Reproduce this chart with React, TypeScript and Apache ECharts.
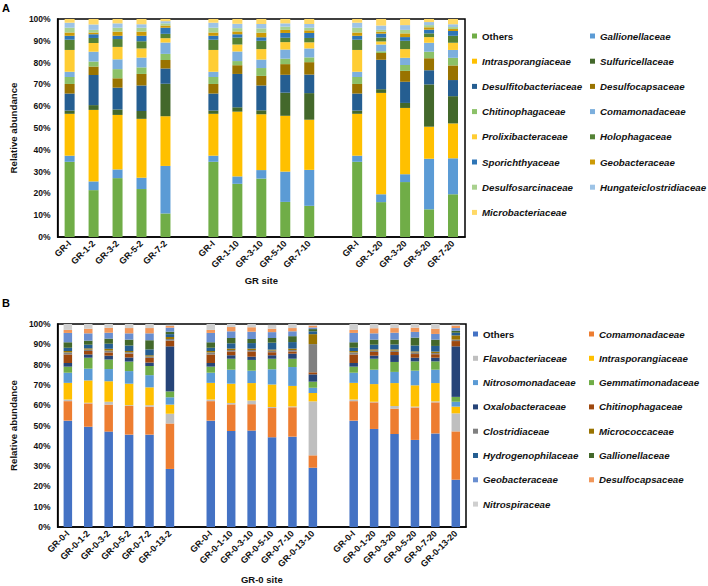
import React, { useEffect, useRef } from "react";
import * as echarts from "echarts";

// ---------- Panel A ----------
const A_FAMILIES = [
  "Others", "Gallionellaceae", "Intrasporangiaceae", "Sulfuricellaceae",
  "Desulfitobacteriaceae", "Desulfocapsaceae", "Chitinophagaceae", "Comamonadaceae",
  "Prolixibacteraceae", "Holophagaceae", "Sporichthyaceae", "Geobacteraceae",
  "Desulfosarcinaceae", "Hungateiclostridiaceae", "Microbacteriaceae",
];
const A_COLORS = [
  "#70AD47", "#5B9BD5", "#FFC000", "#43682B", "#255E91", "#997300", "#8CC168", "#7CAFDD",
  "#FFCD33", "#548235", "#2E75B6", "#CC9A06", "#A9D18E", "#9DC3E6", "#FFD966",
];
const A_CATS = [
  "GR-I", "GR-1-2", "GR-3-2", "GR-5-2", "GR-7-2", "",
  "GR-I", "GR-1-10", "GR-3-10", "GR-5-10", "GR-7-10", "",
  "GR-I", "GR-1-20", "GR-3-20", "GR-5-20", "GR-7-20",
];
// values per sample, in family (stack) order
const A_GR_I = [34.5, 2.8, 19.2, 1.5, 7.8, 4.4, 3.2, 2.4, 10.0, 4.7, 1.8, 1.5, 2.2, 2.3, 1.7];
const A_GR_1_2 = [21.5, 4.0, 32.8, 2.2, 13.8, 3.9, 2.3, 4.5, 4.0, 2.3, 1.7, 0.8, 1.2, 2.5, 2.5];
const A_GR_3_2 = [27.0, 4.0, 25.0, 2.5, 10.0, 4.3, 4.2, 4.5, 5.7, 3.6, 1.5, 1.9, 1.8, 2.0, 2.0];
const A_GR_5_2 = [22.0, 5.2, 27.0, 3.6, 11.7, 5.3, 3.0, 4.5, 4.2, 3.3, 2.5, 1.9, 1.8, 1.6, 2.4];
const A_GR_7_2 = [10.8, 21.8, 22.8, 14.9, 7.0, 3.9, 2.8, 5.2, 2.0, 2.0, 2.8, 1.0, 1.0, 1.0, 1.0];
const A_GR_1_10 = [24.4, 3.4, 29.7, 2.0, 15.3, 4.0, 1.9, 4.4, 3.2, 3.2, 1.5, 1.3, 1.5, 2.0, 2.2];
const A_GR_3_10 = [26.8, 3.9, 25.6, 1.8, 11.4, 4.4, 3.6, 3.9, 4.8, 3.8, 1.6, 2.1, 2.0, 2.0, 2.3];
const A_GR_5_10 = [16.1, 13.9, 25.6, 10.6, 8.2, 4.9, 2.5, 4.2, 3.4, 2.0, 2.2, 1.4, 1.5, 1.5, 2.0];
const A_GR_7_10 = [14.3, 16.5, 23.0, 12.2, 8.5, 5.7, 2.2, 4.1, 2.8, 2.0, 2.3, 1.2, 1.2, 1.7, 2.3];
const A_GR_1_20 = [16.0, 3.6, 46.5, 1.7, 13.5, 3.1, 0.8, 3.1, 1.4, 1.8, 1.8, 0.9, 0.8, 2.0, 3.0];
const A_GR_3_20 = [25.2, 3.6, 30.4, 2.3, 9.7, 5.0, 2.7, 3.3, 4.0, 3.8, 1.7, 1.7, 1.6, 2.2, 2.8];
const A_GR_5_20 = [12.7, 23.2, 14.7, 19.4, 6.5, 5.5, 3.0, 4.1, 2.6, 1.7, 1.7, 1.1, 1.0, 1.4, 1.4];
const A_GR_7_20 = [19.6, 16.5, 16.0, 12.5, 7.4, 6.7, 3.5, 3.6, 3.3, 3.2, 2.2, 0.9, 0.9, 1.3, 2.4];
const A_SAMPLES = [
  A_GR_I, A_GR_1_2, A_GR_3_2, A_GR_5_2, A_GR_7_2, null,
  A_GR_I, A_GR_1_10, A_GR_3_10, A_GR_5_10, A_GR_7_10, null,
  A_GR_I, A_GR_1_20, A_GR_3_20, A_GR_5_20, A_GR_7_20,
];

// ---------- Panel B ----------
const B_FAMILIES = [
  "Others", "Comamonadaceae", "Flavobacteriaceae", "Intrasporangiaceae",
  "Nitrosomonadaceae", "Gemmatimonadaceae", "Oxalobacteraceae", "Chitinophagaceae",
  "Clostridiaceae", "Micrococcaceae", "Hydrogenophilaceae", "Gallionellaceae",
  "Geobacteraceae", "Desulfocapsaceae", "Nitrospiraceae",
];
const B_COLORS = [
  "#4472C4", "#ED7D31", "#BFBFBF", "#FFC000", "#5B9BD5", "#70AD47", "#264478", "#9E480E",
  "#808080", "#997300", "#255E91", "#43682B", "#698ED0", "#F1975A", "#CFCFCF",
];
const B_CATS = [
  "GR-0-I", "GR-0-1-2", "GR-0-3-2", "GR-0-5-2", "GR-0-7-2", "GR-0-13-2", "",
  "GR-0-I", "GR-0-1-10", "GR-0-3-10", "GR-0-5-10", "GR-0-7-10", "GR-0-13-10", "",
  "GR-0-I", "GR-0-1-20", "GR-0-3-20", "GR-0-5-20", "GR-0-7-20", "GR-0-13-20",
];
const B_GR0_I = [52.4, 9.6, 0.8, 8.2, 5.0, 3.0, 1.8, 4.2, 1.0, 0.7, 1.6, 2.7, 4.6, 1.5, 2.9];
const B_GR0_1_2 = [49.4, 11.5, 0.3, 11.0, 5.8, 5.4, 1.6, 1.7, 0.7, 0.6, 1.8, 2.0, 3.6, 2.3, 2.3];
const B_GR0_3_2 = [47.0, 13.3, 1.4, 10.1, 6.0, 4.7, 1.9, 1.6, 0.9, 0.9, 2.5, 2.5, 2.9, 2.4, 1.9];
const B_GR0_5_2 = [45.5, 14.1, 0.4, 10.6, 6.2, 4.7, 2.0, 1.9, 0.7, 0.6, 2.7, 2.9, 3.1, 2.6, 2.0];
const B_GR0_7_2 = [45.5, 13.8, 0.7, 8.8, 6.0, 4.5, 1.7, 2.3, 0.7, 0.6, 2.9, 4.5, 3.4, 2.6, 2.0];
const B_GR0_13_2 = [28.6, 22.4, 4.8, 4.5, 3.6, 2.9, 22.2, 2.8, 0.8, 1.0, 1.4, 1.2, 2.0, 0.8, 0.6];
const B_GR0_1_10 = [47.3, 13.1, 0.7, 9.5, 6.9, 5.4, 1.7, 1.9, 0.7, 0.7, 2.6, 2.6, 3.3, 2.1, 1.5];
const B_GR0_3_10 = [47.5, 13.0, 1.8, 8.6, 6.1, 5.3, 1.6, 2.6, 0.7, 0.7, 2.7, 2.0, 3.6, 2.2, 1.6];
const B_GR0_5_10 = [44.2, 14.4, 0.5, 11.1, 7.5, 5.2, 1.7, 1.5, 0.8, 0.5, 3.4, 2.3, 2.9, 1.7, 1.9];
const B_GR0_7_10 = [44.5, 14.5, 0.4, 10.1, 9.3, 4.1, 2.5, 1.1, 0.7, 0.7, 3.2, 2.9, 2.4, 1.6, 2.0];
const B_GR0_13_10 = [29.2, 6.1, 26.6, 4.1, 2.6, 3.0, 3.6, 1.0, 13.9, 4.9, 1.4, 1.1, 0.8, 0.9, 0.4];
const B_GR0_1_20 = [48.3, 13.1, 0.3, 8.7, 7.1, 5.4, 1.5, 1.8, 0.7, 0.6, 2.3, 2.5, 3.1, 2.5, 2.1];
const B_GR0_3_20 = [45.8, 12.5, 1.3, 11.3, 5.5, 4.9, 3.4, 1.5, 0.7, 0.6, 2.4, 2.4, 3.4, 2.3, 2.0];
const B_GR0_5_20 = [42.9, 16.0, 0.4, 10.5, 7.2, 4.6, 1.8, 1.8, 0.8, 0.5, 2.9, 3.9, 2.8, 2.1, 1.8];
const B_GR0_7_20 = [46.1, 15.3, 0.5, 9.0, 6.6, 4.1, 1.8, 1.7, 0.6, 0.7, 2.8, 3.1, 2.8, 2.6, 2.3];
const B_GR0_13_20 = [23.3, 23.8, 8.9, 3.3, 2.4, 2.4, 24.9, 2.6, 0.7, 2.1, 1.3, 1.0, 1.3, 1.2, 0.5];
const B_SAMPLES = [
  B_GR0_I, B_GR0_1_2, B_GR0_3_2, B_GR0_5_2, B_GR0_7_2, B_GR0_13_2, null,
  B_GR0_I, B_GR0_1_10, B_GR0_3_10, B_GR0_5_10, B_GR0_7_10, B_GR0_13_10, null,
  B_GR0_I, B_GR0_1_20, B_GR0_3_20, B_GR0_5_20, B_GR0_7_20, B_GR0_13_20,
];

const Y_TICKS_FORMAT = "{value}%";

const FONT = 'Arial, "Liberation Sans", Helvetica, sans-serif';

function buildSeries(prefix: string, families: string[], colors: string[], samples: (number[] | null)[], axisIndex: number, barWidth: number) {
  return families.map((f, k) => ({
    name: prefix + f,
    type: "bar",
    stack: prefix,
    xAxisIndex: axisIndex,
    yAxisIndex: axisIndex,
    barWidth,
    itemStyle: { color: colors[k] },
    emphasis: { disabled: true },
    data: samples.map((s) => (s ? s[k] : null)),
  }));
}

function buildLegend(prefix: string, families: string[], colors: string[], parity: number, left: number, top: number, itemGap: number) {
  const data = families
    .map((f, k) => ({ f, k }))
    .filter(({ k }) => k % 2 === parity)
    .map(({ f, k }) => ({
      name: prefix + f,
      itemStyle: { color: colors[k] },
      textStyle: { fontStyle: f === "Others" ? "normal" : "italic" },
    }));
  return {
    data,
    orient: "vertical",
    left,
    top,
    padding: 0,
    itemGap,
    itemWidth: 5,
    itemHeight: 5,
    icon: "rect",
    selectedMode: false,
    formatter: (n: string) => n.replace(/^[AB]:/, ""),
    textStyle: { fontFamily: FONT, fontSize: 9.7, fontWeight: "bold", fontStyle: "italic", color: "#111" },
  };
}

function xAxis(gridIndex: number, cats: string[], name: string, nameGap: number) {
  return {
    type: "category",
    gridIndex,
    data: cats,
    axisTick: { show: false },
    axisLine: { show: true, lineStyle: { color: "#000", width: 1.5 } },
    axisLabel: { interval: 0, rotate: 45, fontSize: 9, fontWeight: "bold", color: "#111", fontFamily: FONT, margin: 5 },
    name,
    nameLocation: "middle",
    nameGap,
    nameTextStyle: { fontSize: 9.5, fontWeight: "bold", color: "#111", fontFamily: FONT },
  };
}

function yAxis(gridIndex: number) {
  return {
    type: "value",
    gridIndex,
    min: 0,
    max: 100,
    interval: 10,
    splitLine: { show: false },
    axisTick: { show: false },
    axisLine: { show: true, lineStyle: { color: "#000", width: 1.5 } },
    axisLabel: { formatter: Y_TICKS_FORMAT, fontSize: 8.5, fontWeight: "bold", color: "#111", fontFamily: FONT, margin: 7 },
    name: "Relative abundance",
    nameLocation: "middle",
    nameGap: 36,
    nameTextStyle: { fontSize: 9.7, fontWeight: "bold", color: "#111", fontFamily: FONT },
  };
}

export default function App() {
  const ref = useRef<HTMLDivElement>(null);
  useEffect(() => {
    if (!ref.current) return;
    const chart = echarts.init(ref.current, null, { renderer: "svg" });
    const option: any = {
      animation: false,
      backgroundColor: "#fff",
      textStyle: { fontFamily: FONT },
      grid: [
        { left: 49, top: 19, width: 416, height: 218, show: true, borderColor: "#000", borderWidth: 1.5, backgroundColor: "transparent" },
        { left: 49, top: 324, width: 417, height: 203, show: true, borderColor: "#000", borderWidth: 1.5, backgroundColor: "transparent" },
      ],
      xAxis: [xAxis(0, A_CATS, "GR site", 38), xAxis(1, B_CATS, "GR-0 site", 47)],
      yAxis: [yAxis(0), yAxis(1)],
      legend: [
        buildLegend("A:", A_FAMILIES, A_COLORS, 0, 472, 31, 15.2),
        buildLegend("A:", A_FAMILIES, A_COLORS, 1, 590, 31, 15.2),
        buildLegend("B:", B_FAMILIES, B_COLORS, 0, 473, 329, 14.3),
        buildLegend("B:", B_FAMILIES, B_COLORS, 1, 589, 329, 14.3),
      ],
      graphic: [
        { type: "text", left: 2, top: 2, style: { text: "A", fontSize: 11, fontWeight: "bold", fontFamily: FONT, fill: "#000" } },
        { type: "text", left: 2, top: 297, style: { text: "B", fontSize: 11, fontWeight: "bold", fontFamily: FONT, fill: "#000" } },
      ],
      series: [
        ...buildSeries("A:", A_FAMILIES, A_COLORS, A_SAMPLES, 0, 10),
        ...buildSeries("B:", B_FAMILIES, B_COLORS, B_SAMPLES, 1, 8.5),
      ],
    };
    chart.setOption(option);
    return () => chart.dispose();
  }, []);
  return <div ref={ref} style={{ position: "absolute", left: 0, top: 0, width: 708, height: 586 }} />;
}
